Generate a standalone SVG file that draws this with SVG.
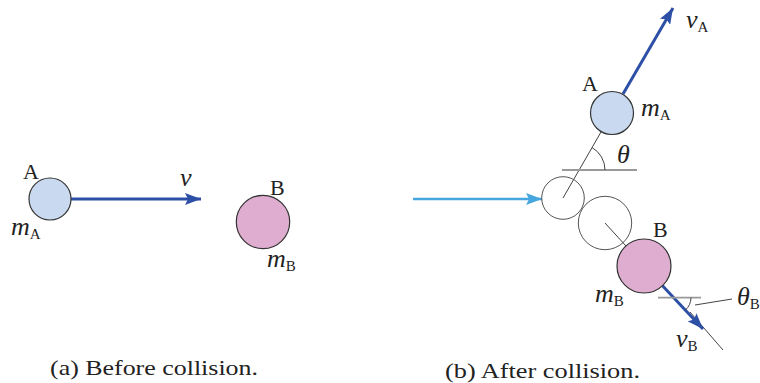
<svg xmlns="http://www.w3.org/2000/svg" width="760" height="383" viewBox="0 0 760 383">
<defs>
<marker id="hd" markerUnits="userSpaceOnUse" markerWidth="18" markerHeight="12" refX="16" refY="6" orient="auto"><path d="M0,0 L16,6 L0,12 L3,6 Z" fill="#2e4fa6"/></marker>
<marker id="hl" markerUnits="userSpaceOnUse" markerWidth="18" markerHeight="12" refX="16" refY="6" orient="auto"><path d="M0,0 L16,6 L0,12 L3,6 Z" fill="#46a6de"/></marker>
<style>
text{font-family:"Liberation Serif","DejaVu Serif",serif;fill:#222;font-size:22px}
.m{font-style:italic;font-size:26px}
.s{font-style:normal;font-size:15px}
.cap{font-size:22px}
.ballA{fill:#c9daf0;stroke:#333;stroke-width:1.2}
.ballB{fill:#dfadcf;stroke:#333;stroke-width:1.2}
.ghost{fill:none;stroke:#555;stroke-width:1}
.thin{stroke:#444;stroke-width:1;fill:none}
.ref{stroke:#999;stroke-width:1.8;fill:none}
.arr{stroke:#2e4fa6;stroke-width:3;fill:none;marker-end:url(#hd)}
.arrl{stroke:#46a6de;stroke-width:2.5;fill:none;marker-end:url(#hl)}
</style>
</defs>
<g id="connectors">
<line class="arr" x1="71" y1="199" x2="201" y2="199"/>
<line class="arrl" x1="413" y1="199" x2="542" y2="199"/>
<line class="thin" x1="601" y1="132" x2="563" y2="198"/>
<line class="thin" x1="605" y1="223" x2="626" y2="246"/>
<line class="arr" x1="623" y1="94" x2="673" y2="8"/>
<line class="thin" x1="690" y1="312" x2="723" y2="350"/>
<line class="arr" x1="662.5" y1="285.7" x2="703" y2="329"/>
<line class="ref" x1="562" y1="170" x2="637" y2="170"/>
<path class="thin" d="M605,170 A26,26 0 0 0 592,147.5"/>
<line class="ref" x1="658" y1="297.7" x2="701" y2="297.7"/>
<path class="thin" d="M691,297.7 A17,17 0 0 1 685.3,310.1"/>
<line class="thin" x1="695" y1="305" x2="732" y2="299"/>
</g>
<g id="ballA-before">
<circle class="ballA" cx="50" cy="199" r="21"/>
<text x="23" y="179">A</text>
<text class="m" x="11" y="235">m<tspan class="s" dy="4">A</tspan></text>
<text class="m" x="180" y="186">v</text>
</g>
<g id="ballB-before">
<circle class="ballB" cx="263" cy="222" r="26.7"/>
<text x="270" y="195">B</text>
<text class="m" x="267" y="267">m<tspan class="s" dy="4">B</tspan></text>
</g>
<g id="ghost1"><circle class="ghost" cx="563" cy="198" r="21.3"/></g>
<g id="ghost2"><circle class="ghost" cx="605" cy="223" r="26.7"/></g>
<g id="ballA-after">
<circle class="ballA" cx="612" cy="113" r="21.5"/>
<text x="582" y="91">A</text>
<text class="m" x="641" y="116">m<tspan class="s" dy="4">A</tspan></text>
<text class="m" x="686" y="28">v<tspan class="s" dy="4">A</tspan></text>
<text class="m" x="617" y="163">θ</text>
</g>
<g id="ballB-after">
<circle class="ballB" cx="644" cy="266" r="27"/>
<text x="653" y="237">B</text>
<text class="m" x="595" y="302">m<tspan class="s" dy="4">B</tspan></text>
<text class="m" x="676" y="347">v<tspan class="s" dy="4">B</tspan></text>
<text class="m" x="737" y="305">θ<tspan class="s" dy="4">B</tspan></text>
</g>
<g id="captions">
<text class="cap" x="50" y="375" textLength="208" lengthAdjust="spacingAndGlyphs">(a) Before collision.</text>
<text class="cap" x="445" y="378" textLength="195" lengthAdjust="spacingAndGlyphs">(b) After collision.</text>
</g>
</svg>
